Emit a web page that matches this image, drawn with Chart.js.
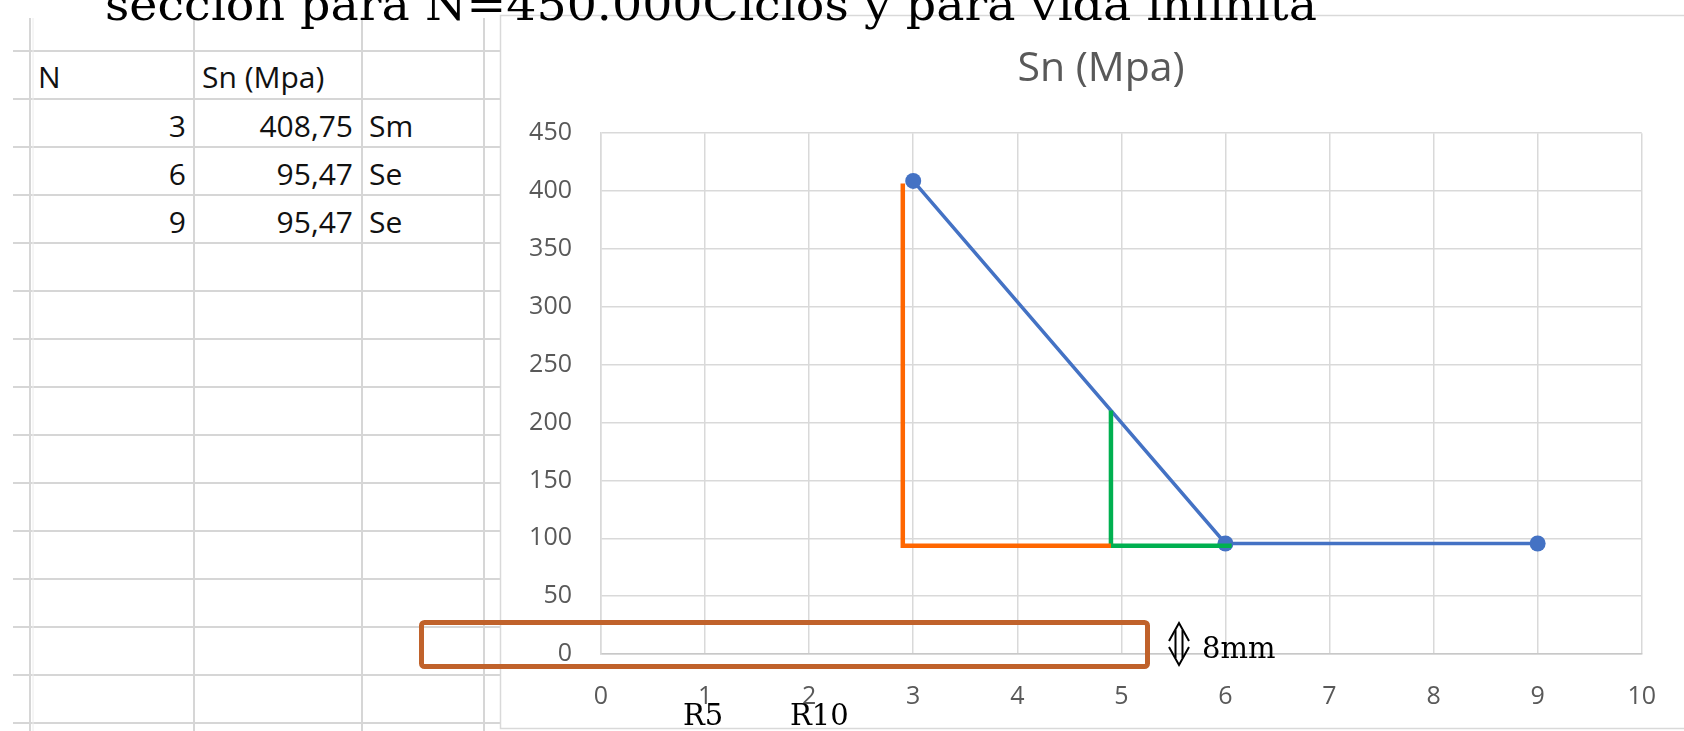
<!DOCTYPE html>
<html>
<head>
<meta charset="utf-8">
<script src="https://cdn.jsdelivr.net/npm/chart.js@4/dist/chart.umd.min.js"></script>
<style>
html, body { margin: 0; padding: 0; background: #fff; }
#page { position: relative; width: 1684px; height: 731px; overflow: hidden; }
#sheet, #overlay { position: absolute; left: 0; top: 0; }
#overlay { pointer-events: none; }
#chartBox { position: absolute; left: 500px; top: 15px; width: 1184px; height: 716px; }
</style>
</head>
<body>
<div id="page">
<svg id="sheet" width="1684" height="731"></svg>
<div id="chartBox"><canvas id="area" width="1184" height="716"></canvas></div>
<svg id="overlay" width="1684" height="731">
  <text x="105" y="20" font-family="DejaVu Serif" font-size="45" textLength="1212" lengthAdjust="spacingAndGlyphs" fill="#000">sección para N=450.000Ciclos y para vida infinita</text>
  <rect x="421.5" y="622.5" width="726" height="44" rx="3" fill="none" stroke="#C0622B" stroke-width="5"/>
  <g stroke="#000" stroke-width="2" fill="none">
    <path d="M1169,641 L1179,623 L1189,641"/>
    <path d="M1169,647 L1179,665 L1189,647"/>
    <path d="M1175.5,630 V658 M1182.5,630 V658"/>
  </g>
  <text x="1202" y="658" font-family="DejaVu Serif" font-size="29" fill="#000">8mm</text>
  <text x="683" y="725" font-family="DejaVu Serif" font-size="29" fill="#000">R5</text>
  <text x="790" y="725" font-family="DejaVu Serif" font-size="29" fill="#000">R10</text>
</svg>
</div>
<script>
// data from the sheet
var nValues = [3, 6, 9];
var snValues = [408.75, 95.47, 95.47];
var snTags = ['Sm', 'Se', 'Se'];

// hand drawn marks over the chart (orange and green L's)
var orangeX = [2.9, 2.9, 4.9];
var orangeY = [406.5, 93.5, 93.5];
var greenX = [4.9, 4.9, 6.06];
var greenY = [210.5, 93.5, 93.5];

// axis limits
var xRange = [0, 10, 1];
var yRange = [0, 450, 50];

function pts(xs, ys) {
  return xs.map(function (x, i) { return { x: x, y: ys[i] }; });
}

// --- spreadsheet grid on the left ---
var svgNS = 'http://www.w3.org/2000/svg';
var sheet = document.getElementById('sheet');
function add(tag, attrs, txt) {
  var el = document.createElementNS(svgNS, tag);
  for (var k in attrs) el.setAttribute(k, attrs[k]);
  if (txt !== undefined) el.textContent = txt;
  sheet.appendChild(el);
  return el;
}
for (var y = 51; y < 731; y += 48) {
  add('line', { x1: 13, x2: 500, y1: y, y2: y, stroke: '#d6d6d6', 'stroke-width': 2 });
}
[30, 194, 362, 484].forEach(function (x) {
  add('line', { x1: x, x2: x, y1: 18, y2: 731, stroke: '#d6d6d6', 'stroke-width': 2 });
});
add('line', { x1: 33, x2: 33, y1: 18, y2: 731, stroke: '#ececec', 'stroke-width': 1 });
// chart area border
add('rect', { x: 500.5, y: 15.5, width: 1190, height: 713, fill: '#fff', stroke: '#d9d9d9', 'stroke-width': 1.5 });

var cellFont = { 'font-family': 'Open Sans', 'font-size': 30, fill: '#111' };
function cellText(x, y, anchor, s) {
  var a = Object.assign({ x: x, y: y, 'text-anchor': anchor }, cellFont);
  add('text', a, s);
}
cellText(38, 88, 'start', 'N');
cellText(202, 88, 'start', 'Sn (Mpa)');
nValues.forEach(function (n, i) {
  var base = 137 + i * 48;
  cellText(186, base, 'end', String(n));
  cellText(353, base, 'end', snValues[i].toFixed(2).replace('.', ','));
  cellText(369, base, 'start', snTags[i]);
});

// --- chart ---
var grey = '#595959';

// Excel centres the title over the whole chart box, not the padded one
var shiftTitle = {
  id: 'shiftTitle',
  afterLayout: function (chart) {
    var t = chart.titleBlock;
    if (t) { t.left += 27; t.right += 0; }
  }
};

var ctx = document.getElementById('area').getContext('2d');
var myChart = new Chart(ctx, {
  type: 'scatter',
  data: {
    datasets: [{
      label: 'orange',
      data: pts(orangeX, orangeY),
      showLine: true,
      borderColor: '#FF6600',
      borderWidth: 4.5,
      pointRadius: 0,
      order: 1
    }, {
      label: 'green',
      data: pts(greenX, greenY),
      showLine: true,
      borderColor: '#00B050',
      borderWidth: 4.5,
      pointRadius: 0,
      order: 1
    }, {
      label: 'Sn (Mpa)',
      data: pts(nValues, snValues),
      showLine: true,
      borderColor: '#4472C4',
      borderWidth: 3.5,
      pointRadius: 8,
      pointBackgroundColor: '#4472C4',
      pointBorderWidth: 0,
      order: 2
    }]
  },
  plugins: [shiftTitle],
  options: {
    responsive: false,
    animation: false,
    layout: { padding: { left: 20, right: 29, top: 0, bottom: 0 } },
    plugins: {
      legend: { display: false },
      tooltip: { enabled: false },
      title: {
        display: true,
        text: 'Sn (Mpa)',
        color: grey,
        font: { family: 'Open Sans', size: 41, weight: 'normal' },
        padding: { top: 30, bottom: 39 }
      }
    },
    scales: {
      x: {
        type: 'linear',
        min: xRange[0],
        max: xRange[1],
        afterFit: function (s) { s.height = 77; },
        ticks: { stepSize: xRange[2], padding: 28, color: grey, font: { family: 'Open Sans', size: 25 } },
        grid: { color: '#d9d9d9', lineWidth: 1.5, drawTicks: false },
        border: { color: '#c8c8c8', width: 1.5 }
      },
      y: {
        min: yRange[0],
        max: yRange[1],
        afterFit: function (s) { s.width = 81; },
        ticks: { stepSize: yRange[2], padding: 29, color: grey, font: { family: 'Open Sans', size: 25 } },
        grid: { color: '#d9d9d9', lineWidth: 1.5, drawTicks: false },
        border: { color: '#d9d9d9', width: 1.5 }
      }
    }
  }
});
</script>
</body>
</html>
